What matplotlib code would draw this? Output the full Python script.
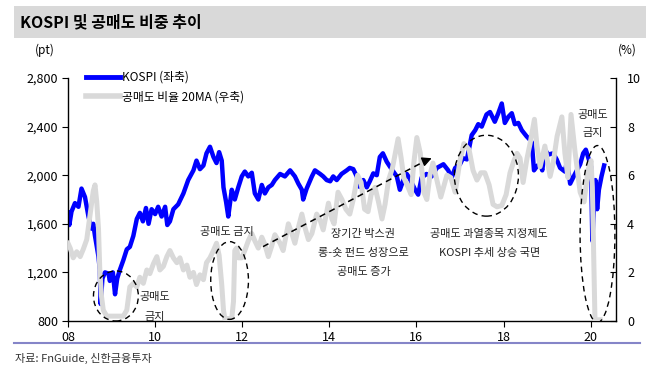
import matplotlib
matplotlib.use('Agg')
import matplotlib.pyplot as plt
from matplotlib.patches import Ellipse, Rectangle
from matplotlib.lines import Line2D
from matplotlib.ticker import FuncFormatter

plt.rcParams['font.family'] = ['Noto Sans CJK KR', 'DejaVu Sans']

# ---------------- data ----------------
kospi_t = [2008.00, 2008.03, 2008.08, 2008.16, 2008.24, 2008.31, 2008.39, 2008.47, 2008.54, 2008.58,
           2008.62, 2008.70, 2008.73, 2008.75, 2008.79, 2008.85, 2008.93, 2008.96, 2009.03, 2009.08,
           2009.13, 2009.19, 2009.27, 2009.35, 2009.42, 2009.50, 2009.58, 2009.65, 2009.72, 2009.79,
           2009.85, 2009.92, 2010.00, 2010.07, 2010.15, 2010.23, 2010.28, 2010.34, 2010.42, 2010.53,
           2010.65, 2010.76, 2010.88, 2010.95, 2011.03, 2011.11, 2011.18, 2011.26, 2011.34, 2011.41,
           2011.47, 2011.53, 2011.57, 2011.63, 2011.68, 2011.76, 2011.83, 2011.91, 2011.99, 2012.06,
           2012.14, 2012.22, 2012.29, 2012.37, 2012.45, 2012.52, 2012.60, 2012.68, 2012.75, 2012.87,
           2012.98, 2013.10, 2013.21, 2013.29, 2013.37, 2013.40, 2013.48, 2013.60, 2013.67, 2013.79,
           2013.86, 2013.94, 2014.02, 2014.09, 2014.17, 2014.28, 2014.40, 2014.47, 2014.55, 2014.63,
           2014.69, 2014.78, 2014.86, 2014.93, 2015.01, 2015.09, 2015.16, 2015.23, 2015.32, 2015.43,
           2015.55, 2015.62, 2015.70, 2015.78, 2015.85, 2015.97, 2016.04, 2016.12, 2016.23, 2016.35,
           2016.47, 2016.62, 2016.73, 2016.81, 2016.89, 2017.00, 2017.07, 2017.16, 2017.27, 2017.35,
           2017.42, 2017.50, 2017.61, 2017.69, 2017.80, 2017.88, 2017.96, 2018.03, 2018.11, 2018.19,
           2018.26, 2018.34, 2018.42, 2018.53, 2018.61, 2018.65, 2018.70, 2018.76, 2018.84, 2018.89,
           2018.95, 2019.03, 2019.14, 2019.22, 2019.30, 2019.41, 2019.46, 2019.53, 2019.64, 2019.76,
           2019.83, 2019.89, 2019.95, 2020.01, 2020.04, 2020.08, 2020.11, 2020.15, 2020.19, 2020.25,
           2020.31]
kospi_v = [1690, 1590, 1700, 1770, 1740, 1890, 1820, 1660, 1560, 1600,
           1500, 1330, 1220, 940, 1150, 1200, 1190, 1130, 1200, 1020,
           1150, 1220, 1300, 1390, 1410, 1500, 1640, 1690, 1620, 1730,
           1600, 1720, 1680, 1740, 1660, 1740, 1590, 1620, 1720, 1760,
           1850, 1960, 2040, 2120, 2050, 2080, 2180, 2234, 2150, 2100,
           2190, 2120, 1900, 1780, 1660, 1880, 1800, 1900, 1990, 2030,
           1990, 2020, 1850, 1800, 1920, 1850, 1900, 1920, 1960, 2010,
           1990, 2040, 1990, 1930, 1880, 1800, 1890, 1990, 2040, 2010,
           1990, 1960, 1950, 1990, 1960, 2010, 2040, 2060, 2050, 1990,
           1905, 1960, 1900, 1950, 2015, 2000, 2150, 2180, 2110, 2050,
           1990, 1880, 1960, 2010, 1970, 1880, 1840, 1980, 2010, 1990,
           2060, 2090, 2040, 1980, 2060, 2090, 2140, 2130, 2330, 2370,
           2420, 2400, 2500, 2520, 2440, 2510, 2590, 2430, 2480, 2510,
           2420, 2430, 2370, 2320, 2290, 2270, 2040, 2070, 2100, 2040,
           2210, 2170, 2180, 2130, 2060, 2030, 2120, 1930, 2010, 2090,
           2180, 2210, 2140, 2070, 1460, 1780, 1960, 1720, 1880, 1990,
           2080]

short_t = [2008.00, 2008.05, 2008.12, 2008.20, 2008.28, 2008.35, 2008.43, 2008.51, 2008.58, 2008.62,
           2008.66, 2008.70, 2008.73, 2008.77, 2008.81, 2008.89, 2009.27, 2009.35, 2009.42, 2009.50,
           2009.58, 2009.65, 2009.73, 2009.81, 2009.88, 2009.96, 2010.04, 2010.11, 2010.19, 2010.27,
           2010.34, 2010.42, 2010.50, 2010.57, 2010.65, 2010.73, 2010.80, 2010.88, 2010.95, 2011.03,
           2011.11, 2011.18, 2011.26, 2011.34, 2011.41, 2011.47, 2011.53, 2011.57, 2011.60, 2011.76,
           2011.80, 2011.83, 2011.87, 2011.91, 2011.99, 2012.06, 2012.14, 2012.22, 2012.29, 2012.37,
           2012.45, 2012.52, 2012.60, 2012.68, 2012.75, 2012.87, 2012.94, 2013.06, 2013.14, 2013.21,
           2013.29, 2013.37, 2013.44, 2013.52, 2013.60, 2013.71, 2013.79, 2013.86, 2013.98, 2014.06,
           2014.11, 2014.20, 2014.29, 2014.38, 2014.47, 2014.55, 2014.65, 2014.73, 2014.81, 2014.89,
           2014.96, 2015.05, 2015.13, 2015.21, 2015.28, 2015.36, 2015.45, 2015.58, 2015.65, 2015.71,
           2015.81, 2015.88, 2015.94, 2016.01, 2016.09, 2016.17, 2016.24, 2016.31, 2016.38, 2016.47,
           2016.56, 2016.70, 2016.79, 2016.89, 2017.00, 2017.09, 2017.21, 2017.30, 2017.39, 2017.48,
           2017.57, 2017.67, 2017.76, 2017.85, 2017.96, 2018.06, 2018.15, 2018.24, 2018.31, 2018.38,
           2018.45, 2018.54, 2018.61, 2018.71, 2018.77, 2018.84, 2018.95, 2019.07, 2019.14, 2019.23,
           2019.34, 2019.41, 2019.48, 2019.55, 2019.64, 2019.76, 2019.85, 2019.94, 2020.01, 2020.04,
           2020.10, 2020.22]
short_v = [3.2, 3.0, 2.6, 2.85, 2.65, 2.95, 3.35, 4.4, 5.35, 5.6,
           4.9, 3.8, 2.1, 1.0, 0.45, 0.2, 0.2, 0.45, 1.4, 1.55,
           1.4, 1.8, 1.55, 2.1, 1.95, 2.35, 2.65, 2.1, 2.25, 2.65,
           2.9, 2.6, 2.4, 2.6, 2.1, 2.3, 1.8, 2.0, 1.5, 1.9,
           1.7, 2.4, 2.6, 2.9, 3.2, 2.7, 1.5, 0.45, 0.1, 0.1,
           0.8, 2.9, 3.0, 2.6, 2.6, 2.9, 3.3, 3.6, 3.3, 3.0,
           3.45, 3.15, 2.65, 3.1, 3.55, 3.2, 2.9, 4.0, 3.6, 3.2,
           3.85, 4.4, 3.85, 3.35, 3.6, 4.4, 4.15, 3.75, 4.85, 4.2,
           4.0, 5.3, 5.0, 4.6, 4.4, 5.0, 6.0, 5.7, 4.6, 4.5,
           5.2, 5.5, 4.9, 4.2, 4.8, 5.8, 6.3, 7.5, 6.7, 5.9,
           5.5, 5.2, 6.5, 7.55, 6.9, 5.3, 5.0, 6.0, 6.5, 5.8,
           5.1, 6.0, 5.9, 5.3, 6.6, 7.3, 7.05, 6.2, 5.8, 6.1,
           6.1, 5.6, 4.8, 4.7, 4.75, 5.2, 6.1, 6.6, 6.9, 6.7,
           5.7, 6.7, 7.3, 8.3, 7.2, 6.35, 7.2, 5.95, 6.5, 7.6,
           8.4, 6.9, 5.9, 8.5, 7.0, 5.3, 4.9, 6.2, 6.6, 5.5,
           0.05, 0.05]

x_ticks = [2008, 2010, 2012, 2014, 2016, 2018, 2020]
x_labels = ['08', '10', '12', '14', '16', '18', '20']
left_ticks = [800, 1200, 1600, 2000, 2400, 2800]
right_ticks = [0, 2, 4, 6, 8, 10]

BLUE = '#0000ff'
GRAY = '#d9d9d9'

# ---------------- figure ----------------
W, H = 660, 374
fig = plt.figure(figsize=(W / 100, H / 100), dpi=100)
ax = fig.add_axes([68 / W, 53 / H, 548 / W, 243 / H])
ax2 = ax.twinx()

ax.plot(kospi_t, kospi_v, color=BLUE, lw=3.2, solid_joinstyle='round', zorder=2)
ax2.plot(short_t, short_v, color=GRAY, lw=3.6, solid_joinstyle='round', zorder=2)

ax.set_xlim(2008, 2020.583)
ax.set_ylim(800, 2800)
ax2.set_ylim(0, 10)
ax.set_xticks(x_ticks)
ax.set_xticklabels(x_labels)
ax.set_yticks(left_ticks)
ax.yaxis.set_major_formatter(FuncFormatter(lambda v, p: f'{int(v):,}'))
ax2.set_yticks(right_ticks)

for a in (ax, ax2):
    a.spines['top'].set_visible(False)
    for s in a.spines.values():
        s.set_color('black')
        s.set_linewidth(1.0)
ax.spines['right'].set_visible(False)
ax2.spines['left'].set_visible(False)
ax2.spines['bottom'].set_visible(False)

ax.tick_params(axis='y', direction='out', length=4, labelsize=9, pad=3, colors='black')
ax.tick_params(axis='x', direction='out', length=4, labelsize=9, pad=3, colors='black')
ax2.tick_params(axis='y', direction='in', length=4, labelsize=9, pad=8, colors='black')

# legend
handles = [Line2D([], [], color=BLUE, lw=3.5), Line2D([], [], color=GRAY, lw=4)]
labels = ['KOSPI (좌축)', '공매도 비율 20MA (우축)']
ax2.legend(handles, labels, loc='upper left', bbox_to_anchor=(0.033, 1.03), frameon=False,
           handlelength=2.9, handletextpad=0.1, labelspacing=0.55, fontsize=8.5,
           borderaxespad=0, borderpad=0)

# annotations (on top axis, right-axis units)
ell_kw = dict(fill=False, edgecolor='black', linestyle=(0, (4, 3)), lw=1.0, zorder=5)
ax2.add_patch(Ellipse((2009.10, 1.03), 1.03, 2.06, **ell_kw))
ax2.add_patch(Ellipse((2011.71, 1.667), 0.866, 3.2, **ell_kw))
ax2.add_patch(Ellipse((2017.607, 5.98), 1.47, 3.33, **ell_kw))
ax2.add_patch(Ellipse((2020.158, 3.58), 0.80, 7.28, **ell_kw))

ax2.plot([2012.478, 2016.30], [3.06, 6.68], color='black', lw=1.1, linestyle=(0, (4, 3)), zorder=5)
ax2.annotate('', xy=(2016.351, 6.70), xytext=(2016.20, 6.59),
             arrowprops=dict(arrowstyle='-|>', color='black', lw=1.0, mutation_scale=14,
                             shrinkA=0, shrinkB=0), zorder=6)

tkw = dict(ha='center', va='center', fontsize=8, color='#222222', zorder=6)
ax2.text(2010.0, 1.0, '공매도', **tkw)
ax2.text(2010.0, 0.18, '금지', **tkw)
ax2.text(2011.65, 3.65, '공매도 금지', **tkw)
ax2.text(2014.785, 3.60, '장기간 박스권', **tkw)
ax2.text(2014.785, 2.79, '롱-숏 펀드 성장으로', **tkw)
ax2.text(2014.785, 2.03, '공매도 증가', **tkw)
ax2.text(2017.67, 3.58, '공매도 과열종목 지정제도', **tkw)
ax2.text(2017.67, 2.79, 'KOSPI 추세 상승 국면', **tkw)
ax2.text(2020.06, 8.48, '공매도', **tkw)
ax2.text(2020.06, 7.72, '금지', **tkw)

# title band
fig.add_artist(Rectangle((14 / W, 1 - 38 / H), 632 / W, 32 / H, transform=fig.transFigure,
                         facecolor='#d9d9d9', edgecolor='none', zorder=0))
fig.text(20 / W, 1 - 22 / H, 'KOSPI 및 공매도 비중 추이', fontsize=11.5, fontweight='bold',
         ha='left', va='center', color='black')
fig.text(45 / W, 1 - 50 / H, '(pt)', fontsize=8.5, ha='center', va='center')
fig.text(627 / W, 1 - 50 / H, '(%)', fontsize=8.5, ha='center', va='center')

# footer
fig.add_artist(Line2D([14 / W, 640 / W], [1 - 343 / H, 1 - 343 / H], transform=fig.transFigure,
                      color='#8585c8', lw=1.5))
fig.text(15 / W, 1 - 358 / H, '자료: FnGuide, 신한금융투자', fontsize=8, ha='left', va='center',
         color='#333333')

fig.savefig('out.png', dpi=100)
